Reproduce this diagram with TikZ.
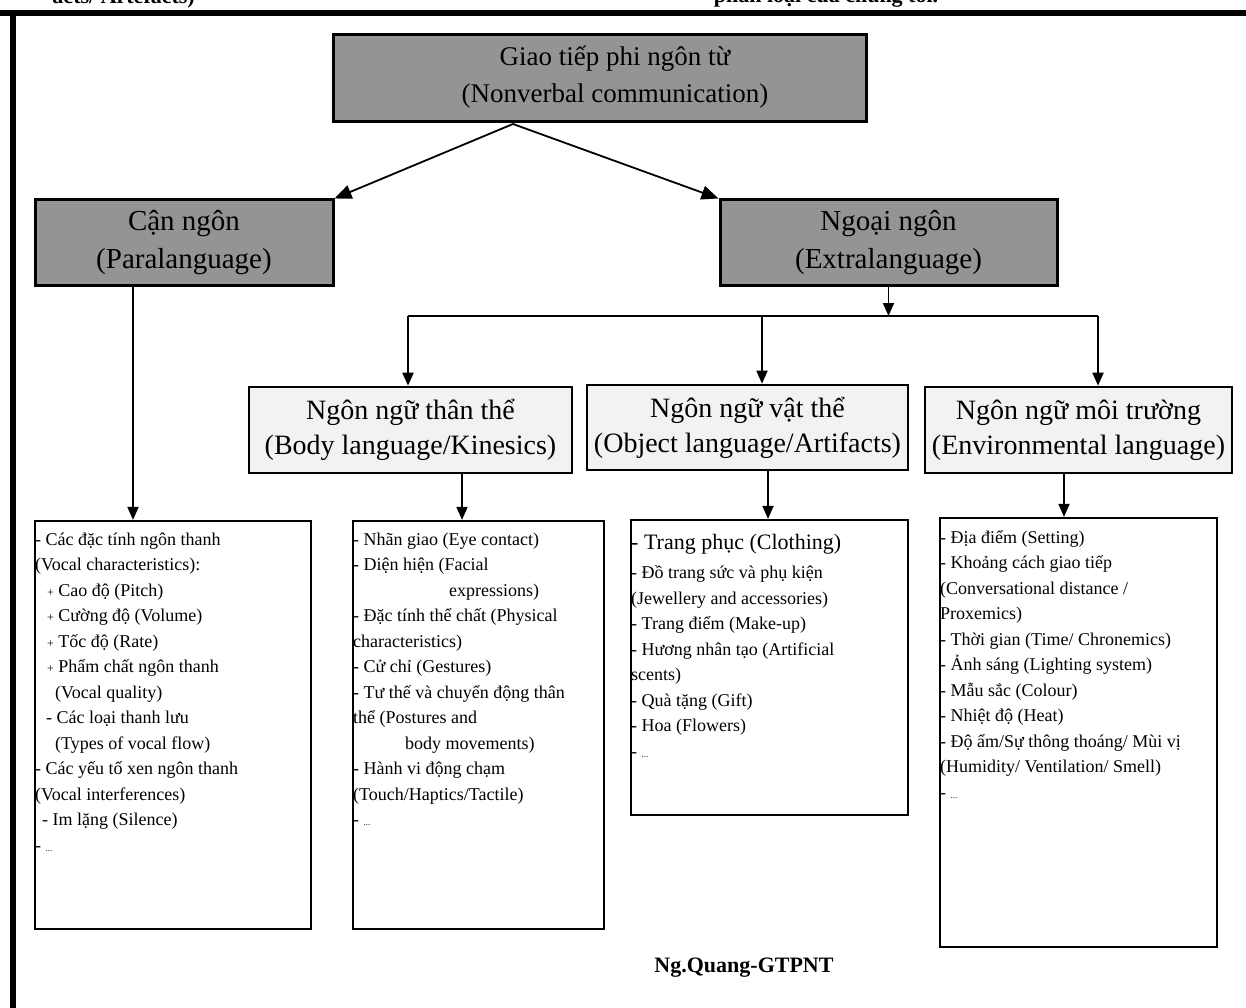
\documentclass[tikz,border=0pt]{standalone}
\usepackage{fontspec}
\setmainfont{Liberation Serif}
\usetikzlibrary{arrows.meta}
\begin{document}
\begin{tikzpicture}[x=1pt,y=-1pt,
  frameline/.style={line width=5.5pt},
  boxone/.style={draw, line width=3pt, fill=black!42, align=center},
  boxtwo/.style={draw, line width=2.6pt, fill=black!5, align=center, font=\fontsize{28}{35}\selectfont},
  listbox/.style={draw, line width=2.2pt, fill=white},
  listtxt/.style={align=left, anchor=base west, inner sep=0pt, font=\fontsize{18}{25.5}\selectfont},
  conn/.style={line width=1.8pt},
  arr/.style={conn, -{Triangle[length=13pt,width=11pt]}},
  bigarr/.style={conn, -{Triangle[length=17pt,width=14pt]}},
  fragtxt/.style={font=\bfseries\fontsize{22}{26}\selectfont, inner sep=0pt},
]
\useasboundingbox (0,0) rectangle (1246,1008);
\clip (0,0) rectangle (1246,1008);

% cut-off text at the top edge
\node[fragtxt, anchor=base east] (fragA) at (195,4) {acts/ Artefacts)};
\node[fragtxt, anchor=base] (fragB) at (826,3) {phân loại của chúng tôi.};

% frame
\draw[frameline] (0,13) -- (1246,13);
\draw[frameline] (13,13) -- (13,1008);

% top level
\node[boxone, minimum width=533pt, minimum height=87pt] (topbox) at (599.5,78.5) {};
\node[align=center, inner sep=0pt, font=\fontsize{27}{37}\selectfont] (toptxt) at (615,77) {Giao tiếp phi ngôn từ\\(Nonverbal communication)};

\node[boxone, minimum width=298pt, minimum height=85pt, font=\fontsize{29}{38}\selectfont] (para) at (184,242.5) {Cận ngôn\\(Paralanguage)};
\node[boxone, minimum width=337pt, minimum height=85pt, font=\fontsize{29}{38}\selectfont] (extra) at (888.5,242.5) {Ngoại ngôn\\(Extralanguage)};

\coordinate (apex) at (513,124);
\draw[bigarr] (apex) -- (para.north east);
\draw[bigarr] (apex) -- (extra.north west);

% second level
\node[boxtwo, minimum width=323pt, minimum height=86pt] (body) at (410.5,430) {Ngôn ngữ thân thể\\(Body language/Kinesics)};
\node[boxtwo, minimum width=321pt, minimum height=85pt] (object) at (747.5,427.5) {Ngôn ngữ vật thể\\(Object language/Artifacts)};
\node[boxtwo, minimum width=307pt, minimum height=86pt, inner sep=0pt] (env) at (1078.5,430) {Ngôn ngữ môi trường\\(Environmental language)};

\coordinate (bus) at (888.5,316);
\coordinate (b1) at (408,316);
\coordinate (b2) at (762,316);
\coordinate (b3) at (1098,316);
\draw[arr] (extra.south) -- (bus);
\draw[conn] (b1) -- (b3);
\draw[arr] (b1) -- (b1 |- body.north);
\draw[arr] (b2) -- (b2 |- object.north);
\draw[arr] (b3) -- (b3 |- env.north);

% list boxes
\node[listbox, minimum width=276pt, minimum height=408pt] (l1) at (173,725) {};
\node[listbox, minimum width=251pt, minimum height=408pt] (l2) at (478.5,725) {};
\node[listbox, minimum width=277pt, minimum height=295pt] (l3) at (769.5,667.5) {};
\node[listbox, minimum width=277pt, minimum height=429pt] (l4) at (1078.5,732.5) {};

\draw[arr] ([xshift=-51pt]para.south) -- ([xshift=-51pt]para.south |- l1.north);
\draw[arr] ([xshift=51.5pt]body.south) -- ([xshift=51.5pt]body.south |- l2.north);
\draw[arr] ([xshift=20.5pt]object.south) -- ([xshift=20.5pt]object.south |- l3.north);
\draw[arr] ([xshift=-14.5pt]env.south) -- ([xshift=-14.5pt]env.south |- l4.north);

% list texts (anchored at the baseline of the last line)
\node[listtxt] (t1) at (35,851) {- Các đặc tính ngôn thanh\\
(Vocal characteristics):\\
\hspace*{12pt}{\fontsize{12}{12}\selectfont +} Cao độ (Pitch)\\
\hspace*{12pt}{\fontsize{12}{12}\selectfont +} Cường độ (Volume)\\
\hspace*{12pt}{\fontsize{12}{12}\selectfont +} Tốc độ (Rate)\\
\hspace*{12pt}{\fontsize{12}{12}\selectfont +} Phẩm chất ngôn thanh\\
\hspace*{20pt}(Vocal quality)\\
\hspace*{11pt}- Các loại thanh lưu\\
\hspace*{20pt}(Types of vocal flow)\\
- Các yếu tố xen ngôn thanh\\
(Vocal interferences)\\
\hspace*{7pt}- Im lặng (Silence)\\
- {\fontsize{9}{9}\selectfont ...}};

\node[listtxt] (t2) at (353,825.5) {- Nhãn giao (Eye contact)\\
- Diện hiện (Facial\\
\hspace*{96pt}expressions)\\
- Đặc tính thể chất (Physical\\
characteristics)\\
- Cử chỉ (Gestures)\\
- Tư thế và chuyển động thân\\
thể (Postures and\\
\hspace*{52pt}body movements)\\
- Hành vi động chạm\\
(Touch/Haptics/Tactile)\\
- {\fontsize{9}{9}\selectfont ...}};

\node[listtxt] (t3) at (631,757) {{\fontsize{22}{25.5}\selectfont - Trang phục (Clothing)}\\[4pt]
- Đồ trang sức và phụ kiện\\
(Jewellery and accessories)\\
- Trang điểm (Make-up)\\
- Hương nhân tạo (Artificial\\
scents)\\
- Quà tặng (Gift)\\
- Hoa (Flowers)\\
- {\fontsize{9}{9}\selectfont ...}};

\node[listtxt] (t4) at (940,798) {- Địa điểm (Setting)\\
- Khoảng cách giao tiếp\\
(Conversational distance /\\
Proxemics)\\
- Thời gian (Time/ Chronemics)\\
- Ảnh sáng (Lighting system)\\
- Mẫu sắc (Colour)\\
- Nhiệt độ (Heat)\\
- Độ ẩm/Sự thông thoáng/ Mùi vị\\
(Humidity/ Ventilation/ Smell)\\
- {\fontsize{9}{9}\selectfont ...}};

% signature
\node[font=\bfseries\fontsize{22}{26}\selectfont] (sig) at (744,968) {Ng.Quang-GTPNT};
\end{tikzpicture}
\end{document}
